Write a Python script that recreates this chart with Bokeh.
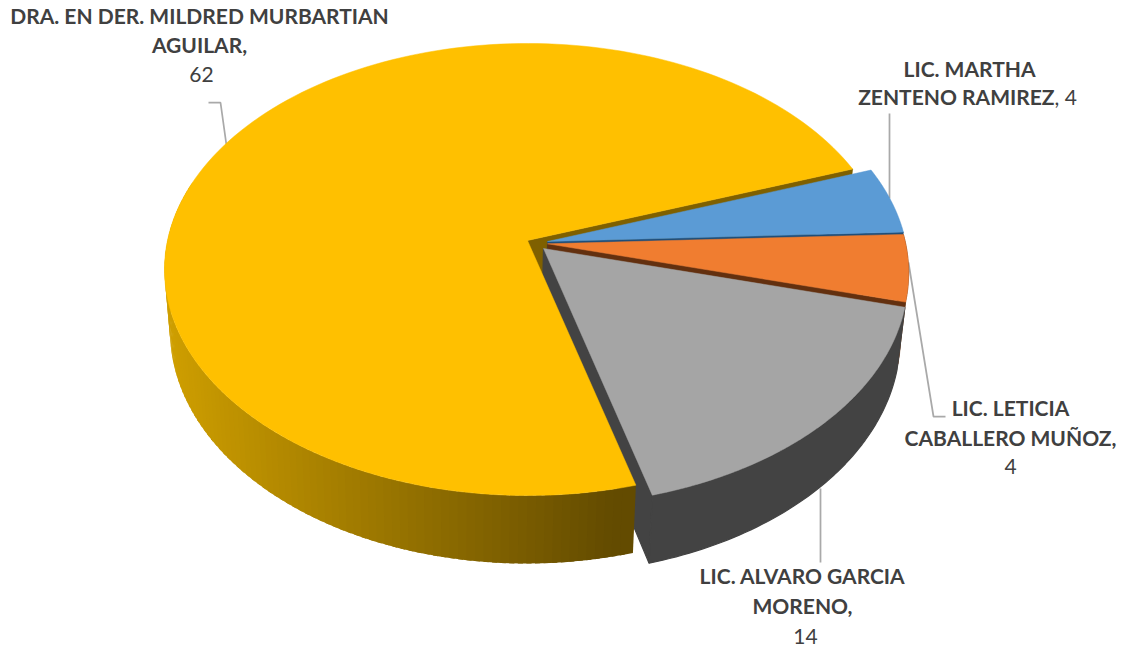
import numpy as np
from bokeh.plotting import figure
from bokeh.models import Range1d
from bokeh.core.properties import value
from bokeh.embed import file_html
from bokeh.resources import INLINE

# data
names = ["DRA. EN DER. MILDRED MURBARTIAN AGUILAR", "LIC. MARTHA ZENTENO RAMIREZ",
         "LIC. LETICIA CABALLERO MUÑOZ", "LIC. ALVARO GARCIA MORENO"]
values = [62, 4, 4, 14]
top_colors = ["#ffc000", "#5b9bd5", "#f07d30", "#a5a5a5"]
wall_colors = ["#7f6000", "#1f4e79", "#63300f", "#434343"]
apex = [(527, 240), (547, 241), (547, 243.3), (543, 248)]
x_scale = [1.0, 0.995, 0.995, 1.004]
y_scale = [1.0, 1.0, 1.0, 1.008]

# projection of the pie
START = -74.7
A, B, C = 360.0, 0.1283, 222.3
X0, S = 470.0, 0.982

def project(i, deg):
    t = np.radians(np.asarray(deg, dtype=float))
    X, Y = np.cos(t), np.sin(t)
    d = 1 + B * Y
    return apex[i][0] + x_scale[i] * A * X / d, apex[i][1] - y_scale[i] * C * Y / d

def lower(x, y):
    x, y = np.asarray(x, float), np.asarray(y, float)
    return X0 + S * (x - X0), y + 68 + (y - 495) * 0.03

edges = [START]
for v in values:
    edges.append(edges[-1] - 360.0 * v / sum(values))
spans = [(edges[i], edges[i + 1]) for i in range(4)]

def sector(i):
    a, b = spans[i]
    x, y = project(i, np.linspace(a, b, 160))
    return [apex[i][0], *x], [apex[i][1], *y]

def side(i, a, b, n=60):
    x, y = project(i, np.linspace(a, b, n))
    lx, ly = lower(x, y)
    return [*x, *lx[::-1]], [*y, *ly[::-1]]

def wall(i, deg):
    ex, ey = project(i, deg)
    ax, ay = apex[i]
    lax, lay = lower(ax, ay)
    lex, ley = lower(ex, ey)
    return [float(ax), float(ex), float(lex), float(lax)], [float(ay), float(ey), float(ley), float(lay)]

p = figure(width=1122, height=648, output_backend="svg", toolbar_location=None,
           x_range=Range1d(0, 1122), y_range=Range1d(648, 0), min_border=0,
           outline_line_color=None, background_fill_color="white", border_fill_color="white")
p.axis.visible = False
p.grid.visible = False

def poly(x, y, color, lw=0.5):
    p.patch(x, y, fill_color=color, line_color=color, line_width=lw)

# leaders
leader_x = [[208, 220, 226], [889, 889], [908, 933, 945], [820, 820]]
leader_y = [[102, 102, 145], [113, 198], [262, 416, 416], [488, 562]]
p.multi_line(leader_x, leader_y, line_color="#a9a9a9", line_width=1.75)

# walls behind the tops
poly(*wall(0, spans[0][1]), wall_colors[0])
poly(*wall(1, spans[1][1]), wall_colors[1])
poly(*side(2, spans[2][0], spans[2][1]), wall_colors[2])
poly(*wall(2, spans[2][1]), wall_colors[2])
poly(*sector(1), top_colors[1])
poly(*sector(2), top_colors[2])

# grey slice
gx, gy = wall(3, spans[3][1])
poly(gx, gy, wall_colors[3], 1.2)
poly(*side(3, spans[3][0], spans[3][1]), wall_colors[3], 1.2)
poly(*sector(3), top_colors[3])

# yellow side, shaded strip by strip; each strip overlaps the next so no seams show
grid = np.linspace(spans[0][0], -195, 100)
step = grid[1] - grid[0]
sx, sy, sc = [], [], []
for a in grid[:-1][::-1]:
    qx, qy = side(0, a, a + step, 2)
    t_ = np.clip((np.mean(qx) - 170) / 450, 0, 1)
    r, g = int(0xcf + (0x63 - 0xcf) * t_), int(0x9f + (0x4b - 0x9f) * t_)
    qx2, qy2 = side(0, a, a + 1.6 * step, 2)
    sx.append([float(v) for v in qx2]); sy.append([float(v) for v in qy2])
    sc.append(f"#{r:02x}{g:02x}00")
p.patches(sx, sy, fill_color=sc, line_color=None)
poly(*sector(0), top_colors[0])

# labels
TXT = "#404040"
FS = "21px"
def t(x, y, s, bold=True, align="center"):
    p.text([x], [y], text=[s], text_font=value("Lato"), text_font_size=FS,
           text_font_style="bold" if bold else "normal", text_color=TXT,
           text_align=align, text_baseline="middle")

t(199, 15, "DRA. EN DER. MILDRED MURBARTIAN")
t(199, 44, "AGUILAR,")
t(201, 74, str(values[0]), bold=False)
t(969, 68, "LIC. MARTHA")
t(1054, 96, "ZENTENO RAMIREZ", align="right")
t(1054, 96, f", {values[1]}", bold=False, align="left")
t(1010, 407, "LIC. LETICIA")
t(1010, 437, "CABALLERO MUÑOZ,")
t(1010, 466, str(values[2]), bold=False)
t(802, 575, "LIC. ALVARO GARCIA")
t(802, 605, "MORENO,")
t(805, 636, str(values[3]), bold=False)

open("out.html", "w").write(file_html(p, INLINE))
